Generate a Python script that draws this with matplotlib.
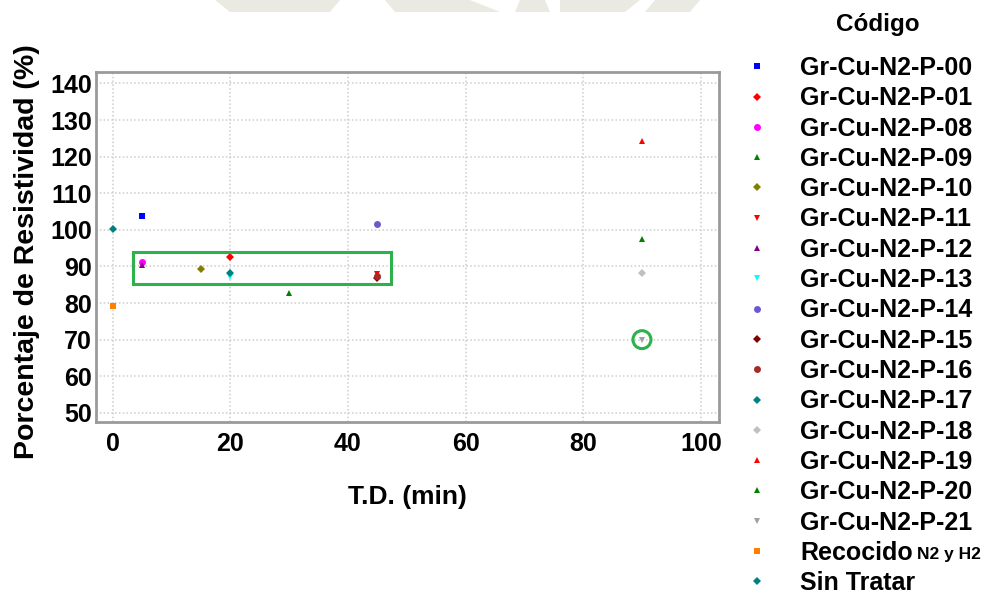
import matplotlib
matplotlib.use("Agg")
import matplotlib.pyplot as plt
from matplotlib.patches import Rectangle, Ellipse, Polygon

plt.rcParams['font.family'] = ['Liberation Sans', 'DejaVu Sans']
plt.rcParams['font.weight'] = 'bold'

# Samples: code, treatment time (min), resistivity percentage
codes = ["Gr-Cu-N2-P-00", "Gr-Cu-N2-P-01", "Gr-Cu-N2-P-08", "Gr-Cu-N2-P-09",
         "Gr-Cu-N2-P-10", "Gr-Cu-N2-P-11", "Gr-Cu-N2-P-12", "Gr-Cu-N2-P-13",
         "Gr-Cu-N2-P-14", "Gr-Cu-N2-P-15", "Gr-Cu-N2-P-16", "Gr-Cu-N2-P-17",
         "Gr-Cu-N2-P-18", "Gr-Cu-N2-P-19", "Gr-Cu-N2-P-20", "Gr-Cu-N2-P-21",
         "Recocido", "Sin Tratar"]
td_min = [5, 20, 5, 30, 15, 45, 5, 20, 45, 45, 45, 20, 90, 90, 90, 90, 0, 0]
resistividad = [103.7, 92.7, 91.2, 82.8, 89.2, 87.8, 90.5, 87.1, 101.7, 86.8,
                87.3, 88.3, 88.2, 124.2, 97.6, 70.0, 79.2, 100.1]

markers = ["s", "D", "o", "^", "D", "v", "^", "v", "o", "D", "o", "D",
           "D", "^", "^", "v", "s", "D"]
colors = ["#0000FF", "#FF0000", "#FF00FF", "#008000", "#808000", "#FF0000",
          "#800080", "#00FFFF", "#6A5ACD", "#800000", "#A52A2A", "#008080",
          "#C0C0C0", "#FF0000", "#008000", "#A0A0A0", "#FF8000", "#008080"]
sizes = [5, 4.5, 5, 5, 4.5, 5, 5, 5, 5, 4.5, 5, 4.5, 4.5, 5, 5, 5, 5, 4.5]

x_ticks = [0, 20, 40, 60, 80, 100]
y_ticks = [50, 60, 70, 80, 90, 100, 110, 120, 130, 140]

W, H = 995, 596
fig = plt.figure(figsize=(W / 100, H / 100), dpi=100)

# faint watermark along the top edge
wm = "#EAEAE2"
for pts in ([(215, 0), (340, 0), (330, 12), (230, 12)],
            [(385, 0), (470, 0), (500, 12), (395, 12)],
            [(520, 0), (545, 0), (550, 12), (515, 12)],
            [(560, 0), (640, 0), (625, 12), (560, 12)],
            [(655, 0), (700, 0), (690, 12), (645, 12)]):
    fig.patches.append(Polygon([(x / W, 1 - y / H) for x, y in pts],
                               closed=True, transform=fig.transFigure,
                               facecolor=wm, edgecolor="none", zorder=0))

ax = fig.add_axes([96 / W, 1 - 422 / H, (719 - 96) / W, (422 - 71.7) / H])
ax.set_xlim(-2.84, 103.1)
ax.set_ylim(47.5, 143.2)
ax.set_xticks(x_ticks)
ax.set_yticks(y_ticks)
ax.grid(True, color="#CDCDCD", linestyle=(0, (1, 1.5)), linewidth=1.1)
ax.tick_params(axis="y", length=0, labelsize=18, pad=3)
ax.tick_params(axis="x", length=0, labelsize=18, pad=7)
for lab in ax.get_xticklabels() + ax.get_yticklabels():
    lab.set_fontweight("bold")
for s in ax.spines.values():
    s.set_color("#9A9A9A")
    s.set_linewidth(2)

handles = []
for c, x, y, m, col, ms in zip(codes, td_min, resistividad, markers, colors, sizes):
    h, = ax.plot([x], [y], linestyle="none", marker=m, color=col,
                 markersize=ms, markeredgewidth=0, label=c, zorder=3)
    handles.append(h)

ax.set_xlabel("T.D. (min)", fontsize=19, fontweight="bold", labelpad=21)
ax.set_ylabel("Porcentaje de Resistividad (%)", fontsize=20.5,
              fontweight="bold")
ax.yaxis.set_label_coords(-0.09, 0.485)

# highlighted groups
green = "#2EB04A"
ax.add_patch(Rectangle((3.45, 85.3), 47.3 - 3.45, 93.9 - 85.3, fill=False,
                       edgecolor=green, linewidth=2.2, zorder=4))
ax.add_patch(Ellipse((90, 70), 3.06, 4.9, fill=False, edgecolor=green,
                     linewidth=2.2, zorder=4))

leg = fig.legend(handles=handles, labels=codes, loc="upper left",
                 bbox_to_anchor=(745 / W, 1 - 56 / H), frameon=False,
                 prop={"size": 18, "weight": "bold"}, labelspacing=0.252,
                 handlelength=1.0, handletextpad=1.2, markerscale=1.0,
                 borderaxespad=0, borderpad=0)
fig.text(878 / W, 1 - 25 / H, "Código", ha="center", va="center",
         fontsize=17.5, fontweight="bold")

# smaller suffix after the annealing entry
fig.canvas.draw()
rec_txt = leg.get_texts()[codes.index("Recocido")]
bb = rec_txt.get_window_extent()
fig.text((bb.x1 + 4) / W, (bb.y0 + 3) / H, "N2 y H2", ha="left",
         va="bottom", fontsize=12.5, fontweight="bold")

fig.savefig("out.png", dpi=100)
